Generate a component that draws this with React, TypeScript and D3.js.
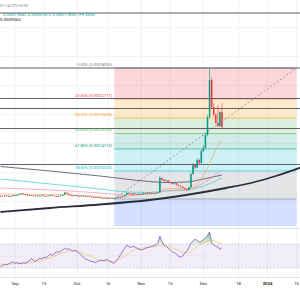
import * as d3 from "d3";

const DAY = 86400000;
const START = Date.UTC(2023, 7, 25);
const END = Date.UTC(2024, 0, 15);

// daily candles from Aug 25 2023, prices in units of 1e-8
const opens = [
  6080, 6020, 5950, 6100, 6050, 5900, 6000, 6150, 6080, 6200,
  6300, 6450, 6350, 6250, 6100, 6150, 6050, 6000, 6100, 5980,
  6050, 6120, 6000, 5950, 6080, 6150, 6050, 6000, 5900, 6020,
  6100, 6250, 6600, 6400, 6200, 6100, 6050, 6150, 6000, 5950,
  6050, 5980, 5900, 6000, 5920, 5850, 5800, 5750, 5820, 5700,
  5650, 5600, 5700, 5550, 5620, 5580, 5650, 5800, 5900, 5850,
  6000, 6200, 6550, 6400, 6300, 6450, 6350, 6250, 6400, 6300,
  6500, 6450, 6600, 6550, 6400, 6500, 6450, 6600, 9115, 8800,
  8600, 8700, 8400, 8300, 8100, 8200, 7900, 7750, 7600, 7400,
  7200, 7050, 7500, 9800, 11350, 10900, 12200, 11700, 13750, 14300,
  16500, 19600, 25970, 21330, 19950, 18600, 18050, 20470,
];
const highs = [
  6180, 6080, 6170, 6160, 6090, 6060, 6220, 6200, 6280, 6380,
  6550, 6500, 6400, 6290, 6220, 6190, 6110, 6160, 6130, 6100,
  6180, 6150, 6040, 6130, 6210, 6180, 6090, 6030, 6080, 6150,
  6320, 6720, 6650, 6450, 6240, 6140, 6210, 6180, 6040, 6110,
  6080, 6020, 6060, 6030, 5960, 5890, 5840, 5880, 5850, 5740,
  5690, 5760, 5730, 5680, 5650, 5700, 5860, 5960, 5930, 6060,
  6260, 6650, 6600, 6450, 6520, 6490, 6380, 6460, 6440, 6580,
  6540, 6680, 6630, 6580, 6560, 6530, 6680, 9460, 9200, 8900,
  8850, 8750, 8480, 8350, 8300, 8250, 7950, 7800, 7650, 7450,
  7250, 7600, 10000, 11700, 11500, 12500, 12400, 14000, 14700, 16800,
  19900, 28035, 26300, 22000, 20300, 21670, 20700, 22015,
];
const lows = [
  5950, 5880, 5920, 5990, 5850, 5860, 5970, 6020, 6050, 6150,
  6250, 6300, 6200, 6050, 6060, 5990, 5950, 5960, 5930, 5940,
  6010, 5960, 5900, 5920, 6040, 6000, 5950, 5850, 5870, 5990,
  6060, 6200, 6350, 6150, 6050, 6000, 6010, 5960, 5900, 5920,
  5940, 5860, 5870, 5880, 5800, 5760, 5700, 5720, 5660, 5610,
  5560, 5570, 5520, 5530, 5540, 5503, 5620, 5770, 5800, 5820,
  5970, 6180, 6350, 6250, 6270, 6300, 6200, 6220, 6260, 6280,
  6400, 6420, 6500, 6350, 6370, 6400, 6420, 6580, 8700, 8500,
  8550, 8300, 8200, 8000, 8050, 7850, 7700, 7550, 7350, 7150,
  7000, 7000, 7450, 9700, 10700, 10800, 11500, 11600, 13500, 14100,
  16300, 19400, 21000, 19700, 18400, 17900, 17950, 17700,
];
const closes = [
  6020, 5950, 6100, 6050, 5900, 6000, 6150, 6080, 6200, 6300,
  6450, 6350, 6250, 6100, 6150, 6050, 6000, 6100, 5980, 6050,
  6120, 6000, 5950, 6080, 6150, 6050, 6000, 5900, 6020, 6100,
  6250, 6600, 6400, 6200, 6100, 6050, 6150, 6000, 5950, 6050,
  5980, 5900, 6000, 5920, 5850, 5800, 5750, 5820, 5700, 5650,
  5600, 5700, 5550, 5620, 5580, 5650, 5800, 5900, 5850, 6000,
  6200, 6550, 6400, 6300, 6450, 6350, 6250, 6400, 6300, 6500,
  6450, 6600, 6550, 6400, 6500, 6450, 6600, 9115, 8800, 8600,
  8700, 8400, 8300, 8100, 8200, 7900, 7750, 7600, 7400, 7200,
  7050, 7500, 9800, 11350, 10900, 12200, 11700, 13750, 14300, 16500,
  19600, 25970, 21330, 19950, 18600, 18050, 20470, 17890,
];

const rsi = [
  32, 34, 36, 35, 37, 39, 40, 38, 39, 38,
  37, 39, 38, 40, 42, 46, 42, 41, 44, 46,
  45, 48, 47, 50, 53, 51, 54, 57, 56, 58,
  60, 63, 61, 62, 60, 58, 60, 57, 55, 52,
  48, 45, 44, 42, 41, 40, 39, 41, 42, 43,
  42, 44, 43, 41, 39, 38, 42, 47, 52, 58,
  63, 68, 66, 64, 66, 65, 63, 61, 60, 61,
  63, 64, 65, 66, 67, 68, 72, 83, 74, 68,
  66, 63, 60, 57, 56, 53, 50, 48, 50, 55,
  58, 64, 71, 75, 78, 76, 73, 74, 77, 81,
  84, 90, 72, 68, 66, 65, 61, 64,
];
const rsiMaIdx = [0, 6, 12, 18, 24, 30, 36, 42, 48, 54, 60, 66, 72, 78, 84, 90, 96, 102, 107];
const rsiMa = [36, 37, 38, 41, 47, 55, 59, 52, 43, 41, 50, 62, 64, 68, 62, 55, 68, 76, 70];

// moving averages sampled at candle indices
const ema20Idx = [0, 20, 40, 55, 65, 75, 80, 90, 95, 100, 104, 107];
const ema20 = [6363, 6277, 6105, 5675, 6191, 6535, 7250, 7309, 8083, 10835, 13939, 15659];
const ema50Idx = [0, 24, 48, 60, 72, 80, 90, 98, 107];
const ema50 = [7395, 7051, 6535, 6191, 6363, 6965, 7051, 8255, 10491];
const ema100Idx = [0, 24, 48, 58, 72, 80, 90, 98, 107];
const ema100 = [8943, 8083, 7223, 6793, 6621, 6879, 7051, 7739, 9115];
const ema200Idx = [0, 24, 48, 72, 80, 90, 98, 107];
const ema200 = [11093, 10319, 9459, 8513, 8341, 8427, 8943, 9631];

// curved support drawing
const arcIdx = [0, 24, 48, 72, 97, 109, 121, 133, 145];
const arcVals = [3267, 3955, 4557, 5331, 6621, 7395, 8255, 9459, 10921];

// horizontal line drawings
const hLines = [37495, 28035, 22790, 21070, 17630, 11440];

const FIB_HIGH = 28035;
const FIB_LOW = 5503;
const FIB_START = 55;
const FIB_END = 143;
const fibLevels = [0, 0.236, 0.382, 0.5, 0.618, 0.786, 1, 1.618];
const fibColors = ["#787b86", "#f23645", "#ff9800", "#4caf50", "#089981", "#00bcd4", "#787b86", "#2962ff"];

const tickDates = [
  Date.UTC(2023, 8, 1), Date.UTC(2023, 8, 15), Date.UTC(2023, 9, 1), Date.UTC(2023, 9, 16),
  Date.UTC(2023, 10, 1), Date.UTC(2023, 10, 15), Date.UTC(2023, 11, 1), Date.UTC(2023, 11, 18),
  Date.UTC(2024, 0, 1), Date.UTC(2024, 0, 15),
];
const tickLabels = ["Sep", "15", "Oct", "16", "Nov", "15", "Dec", "18", "2024", "15"];

const UP = "#089981";
const DOWN = "#f23645";

export default function App() {
  const x = d3.scaleUtc().domain([START, END]).range([0.5, 296.5]);
  const dx = (i: number) => x(START + i * DAY);
  const y = d3.scaleLinear().domain([FIB_LOW, FIB_HIGH]).range([199, 68]);
  const yr = d3.scaleLinear().domain([30, 70]).range([268, 244]);

  const fibPrice = (l: number) => FIB_HIGH - l * (FIB_HIGH - FIB_LOW);
  const fx0 = dx(FIB_START);
  const fx1 = dx(FIB_END);

  const maPath = (idx: number[], vals: number[]) =>
    d3
      .line<number>()
      .x((_, k) => dx(idx[k]))
      .y((v) => y(v))
      .curve(d3.curveMonotoneX)(vals) || "";

  const rsiLine = d3
    .line<number>()
    .x((_, i) => dx(i))
    .y((v) => yr(v))(rsi) || "";
  const rsiArea = d3
    .area<number>()
    .x((_, i) => dx(i))
    .y0(yr(70))
    .y1((v) => yr(v))(rsi) || "";
  const rsiMaLine = d3
    .line<number>()
    .x((_, k) => dx(rsiMaIdx[k]))
    .y((v) => yr(v))
    .curve(d3.curveMonotoneX)(rsiMa) || "";

  const gridPrices = d3.range(5000, 40001, 5000);

  return (
    <svg
      width={300}
      height={300}
      style={{ position: "absolute", left: 0, top: 0, background: "#fff" }}
      fontFamily="Roboto, 'Liberation Sans', sans-serif"
    >
      <defs>
        <clipPath id="mainClip">
          <rect x={0} y={0} width={300} height={226} />
        </clipPath>
        <clipPath id="rsiClip">
          <rect x={0} y={229} width={300} height={48} />
        </clipPath>
        <clipPath id="obClip">
          <rect x={0} y={229} width={300} height={yr(70) - 229} />
        </clipPath>
        <linearGradient id="obGrad" gradientUnits="userSpaceOnUse" x1={0} y1={229} x2={0} y2={yr(70)}>
          <stop offset="0" stopColor="#4caf50" stopOpacity={0.85} />
          <stop offset="1" stopColor="#4caf50" stopOpacity={0.1} />
        </linearGradient>
      </defs>

      <rect x={0} y={0} width={300} height={300} fill="#fff" />

      {/* grid */}
      {tickDates.map((t, i) => (
        <line key={"vg" + i} x1={x(t)} x2={x(t)} y1={0} y2={277} stroke="#f0f3fa" strokeWidth={1} />
      ))}
      <g clipPath="url(#mainClip)">
        {gridPrices.map((p) => (
          <line key={"hg" + p} x1={0} x2={300} y1={y(p)} y2={y(p)} stroke="#f0f3fa" strokeWidth={1} />
        ))}
      </g>

      {/* fib retracement bands */}
      <g clipPath="url(#mainClip)">
        {fibLevels.slice(1).map((l, k) => {
          const yTop = y(fibPrice(fibLevels[k]));
          const yBot = y(fibPrice(l));
          return (
            <rect
              key={"fb" + k}
              x={fx0}
              y={yTop}
              width={fx1 - fx0}
              height={yBot - yTop}
              fill={fibColors[k + 1]}
              fillOpacity={0.2}
            />
          );
        })}
        {fibLevels.map((l, k) => (
          <line
            key={"fl" + k}
            x1={fx0}
            x2={fx1}
            y1={y(fibPrice(l))}
            y2={y(fibPrice(l))}
            stroke={fibColors[k]}
            strokeOpacity={0.55}
            strokeWidth={1}
          />
        ))}
        <line
          x1={fx0}
          y1={y(FIB_LOW)}
          x2={fx1}
          y2={y(FIB_HIGH)}
          stroke="#787b86"
          strokeWidth={0.7}
          strokeDasharray="2,2"
        />
      </g>

      {/* horizontal line drawings */}
      {hLines.map((p, i) => (
        <line key={"hl" + i} x1={0} x2={300} y1={y(p)} y2={y(p)} stroke="#5d606b" strokeWidth={1} />
      ))}

      {/* fib labels */}
      {fibLevels.slice(0, 6).map((l, k) => (
        <text
          key={"flt" + k}
          x={112}
          y={y(fibPrice(l)) - 2.3}
          fontSize={3.9}
          textAnchor="end"
          fill={fibColors[k]}
        >
          {`${(l * 100).toFixed(2)}% (${(fibPrice(l) * 1e-8).toFixed(8)})`}
        </text>
      ))}

      <g clipPath="url(#mainClip)">
        {/* arc drawing */}
        <path d={maPath(arcIdx, arcVals)} fill="none" stroke="#2a2e39" strokeWidth={1.8} />
        {/* moving averages */}
        <path d={maPath(ema200Idx, ema200)} fill="none" stroke="#5d606b" strokeWidth={0.9} />
        <path d={maPath(ema100Idx, ema100)} fill="none" stroke="#4dd0e1" strokeWidth={0.8} />
        <path d={maPath(ema50Idx, ema50)} fill="none" stroke="#f48fb1" strokeWidth={0.7} />
        <path d={maPath(ema20Idx, ema20)} fill="none" stroke="#f7a35c" strokeWidth={0.7} />

        {/* candles */}
        {closes.map((c, i) => {
          const o = opens[i];
          const col = c >= o ? UP : DOWN;
          const cx = dx(i);
          const yTop = y(Math.max(o, c));
          const h = Math.max(0.7, y(Math.min(o, c)) - yTop);
          return (
            <g key={"c" + i}>
              <line x1={cx} x2={cx} y1={y(highs[i])} y2={y(lows[i])} stroke={col} strokeWidth={0.6} />
              <rect x={cx - 0.75} y={yTop} width={1.5} height={h} fill={col} />
            </g>
          );
        })}
      </g>

      {/* pane separators */}
      <line x1={0} x2={300} y1={228.5} y2={228.5} stroke="#e0e3eb" strokeWidth={1} />
      <line x1={0} x2={300} y1={277.5} y2={277.5} stroke="#e0e3eb" strokeWidth={1} />

      {/* RSI pane */}
      <rect x={0} y={yr(70)} width={300} height={yr(30) - yr(70)} fill="#7e57c2" fillOpacity={0.1} />
      {[70, 50, 30].map((v) => (
        <line
          key={"rl" + v}
          x1={0}
          x2={300}
          y1={yr(v)}
          y2={yr(v)}
          stroke="#787b86"
          strokeOpacity={v === 50 ? 0.35 : 0.55}
          strokeWidth={0.6}
          strokeDasharray={v === 50 ? "1,1.5" : "2,1.5"}
        />
      ))}
      <g clipPath="url(#obClip)">
        <path d={rsiArea} fill="url(#obGrad)" />
      </g>
      <g clipPath="url(#rsiClip)">
        <path d={rsiMaLine} fill="none" stroke="#f0c45a" strokeWidth={0.7} />
        <path d={rsiLine} fill="none" stroke="#7e57c2" strokeWidth={0.8} />
      </g>

      {/* time axis */}
      {tickDates.map((t, i) => (
        <text
          key={"tl" + i}
          x={x(t)}
          y={284.5}
          fontSize={4.2}
          textAnchor="middle"
          fill="#131722"
          fontWeight={tickLabels[i] === "2024" ? 700 : 400}
        >
          {tickLabels[i]}
        </text>
      ))}

      {/* legend */}
      <text x={0} y={7} fontSize={4.2} fill="#787b86" textLength={28} lengthAdjust="spacingAndGlyphs">
        01:14 UTC+5:30
      </text>
      <text x={3} y={16} fontSize={4.2} fill={UP} textLength={92} lengthAdjust="spacingAndGlyphs">
        0.00019562 0.00001672 0.00017890 (+9.35%)
      </text>
      <text x={0} y={21} fontSize={4.2} fill="#131722" textLength={21} lengthAdjust="spacingAndGlyphs">
        0.0009562
      </text>
    </svg>
  );
}
